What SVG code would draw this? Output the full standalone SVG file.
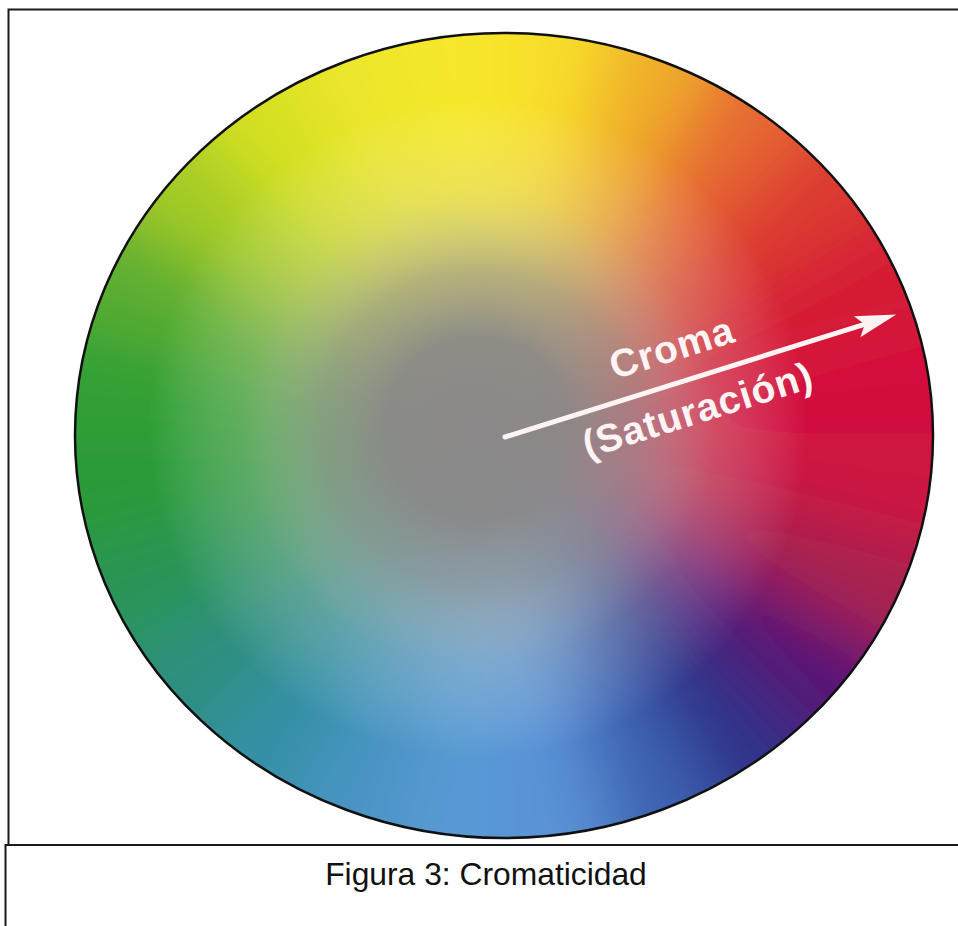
<svg xmlns="http://www.w3.org/2000/svg" width="958" height="926" viewBox="0 0 958 926">
<style>
.frame{fill:none;stroke:#1a1a1a;stroke-width:2}
.lbl{font-family:"Liberation Sans",Arial,sans-serif;font-weight:bold;font-size:39px;fill:#fff3f3}
.cap{font-family:"Liberation Sans",Arial,sans-serif;font-size:31.8px;fill:#111}
.wedges path{stroke-width:3;stroke-linejoin:round}
</style>
<defs>
<clipPath id="wheelClip"><ellipse cx="504" cy="435.5" rx="429" ry="402.5"/></clipPath>
<filter id="soft" x="-10%" y="-10%" width="120%" height="120%"><feGaussianBlur stdDeviation="32"/></filter>
<radialGradient id="grayCore" gradientUnits="userSpaceOnUse" cx="478" cy="428" r="330">
<stop offset="0" stop-color="#8a8888" stop-opacity="1"/>
<stop offset="0.28" stop-color="#8c8a8a" stop-opacity="0.96"/>
<stop offset="0.48" stop-color="#a19f9a" stop-opacity="0.72"/>
<stop offset="0.72" stop-color="#d6d4c4" stop-opacity="0.28"/>
<stop offset="1" stop-color="#ffffff" stop-opacity="0"/>
</radialGradient>
</defs>
<rect width="958" height="926" fill="#ffffff"/>
<g id="frame">
<polyline class="frame" points="958,9.5 8.5,9.5 8.5,845"/>
<polyline class="frame" points="958,845 5.5,845 5.5,926"/>
</g>
<g id="wheel">
<g clip-path="url(#wheelClip)">
<rect x="60" y="20" width="890" height="830" fill="#9a9a9a"/>
<g class="wedges" filter="url(#soft)">
<path d="M504,435.5 L1180.2,253.8 L1204,435.5Z" fill="#d3103c" stroke="#d3103c"/>
<path d="M504,435.5 L1204,435.5 L1180.2,616.2Z" fill="#cc1242" stroke="#cc1242"/>
<path d="M504,435.5 L1180.2,616.2 L1110.2,785Z" fill="#a82250" stroke="#a82250"/>
<path d="M504,435.5 L1110.2,785 L999,930Z" fill="#561876" stroke="#561876"/>
<path d="M504,435.5 L999,930 L854,1041.2Z" fill="#2e3088" stroke="#2e3088"/>
<path d="M504,435.5 L854,1041.2 L685.2,1111.2Z" fill="#3d62b2" stroke="#3d62b2"/>
<path d="M504,435.5 L685.2,1111.2 L504,1135Z" fill="#5a92d6" stroke="#5a92d6"/>
<path d="M504,435.5 L504,1135 L322.8,1111.2Z" fill="#589ad4" stroke="#589ad4"/>
<path d="M504,435.5 L322.8,1111.2 L154,1041.2Z" fill="#4894c4" stroke="#4894c4"/>
<path d="M504,435.5 L154,1041.2 L9,930Z" fill="#3690a6" stroke="#3690a6"/>
<path d="M504,435.5 L9,930 L-102.2,785Z" fill="#2e8f80" stroke="#2e8f80"/>
<path d="M504,435.5 L-102.2,785 L-172.2,616.2Z" fill="#2a9456" stroke="#2a9456"/>
<path d="M504,435.5 L-172.2,616.2 L-196,435.5Z" fill="#2a9a38" stroke="#2a9a38"/>
<path d="M504,435.5 L-196,435.5 L-172.2,253.8Z" fill="#32a034" stroke="#32a034"/>
<path d="M504,435.5 L-172.2,253.8 L-102.2,85Z" fill="#5cae30" stroke="#5cae30"/>
<path d="M504,435.5 L-102.2,85 L9,-60Z" fill="#a4cc28" stroke="#a4cc28"/>
<path d="M504,435.5 L9,-60 L154,-171.2Z" fill="#d6e020" stroke="#d6e020"/>
<path d="M504,435.5 L154,-171.2 L322.8,-241.2Z" fill="#ece62a" stroke="#ece62a"/>
<path d="M504,435.5 L322.8,-241.2 L504,-265Z" fill="#f6e82c" stroke="#f6e82c"/>
<path d="M504,435.5 L504,-265 L685.2,-241.2Z" fill="#f8de2a" stroke="#f8de2a"/>
<path d="M504,435.5 L685.2,-241.2 L854,-171.2Z" fill="#f0ae2a" stroke="#f0ae2a"/>
<path d="M504,435.5 L854,-171.2 L999,-60Z" fill="#e66a30" stroke="#e66a30"/>
<path d="M504,435.5 L999,-60 L1110.2,85Z" fill="#dc3a30" stroke="#dc3a30"/>
<path d="M504,435.5 L1110.2,85 L1180.2,253.8Z" fill="#d61e34" stroke="#d61e34"/>
</g>
<rect x="60" y="20" width="890" height="830" fill="url(#grayCore)"/>
</g>
<ellipse cx="504" cy="435.5" rx="429" ry="402.5" fill="none" stroke="#111" stroke-width="2.5"/>
</g>
<g id="chroma-arrow" transform="translate(505,437) rotate(-17.4)">
<line x1="0" y1="0" x2="380" y2="0" stroke="#fff3f3" stroke-width="5" stroke-linecap="round"/>
<polygon points="410,0 369,-11 377,0 369,11" fill="#fff3f3"/>
<text class="lbl" x="186" y="-22" text-anchor="middle" letter-spacing="1">Croma</text>
<text class="lbl" x="192" y="45" text-anchor="middle" letter-spacing="1">(Saturación)</text>
</g>
<g id="caption">
<text class="cap" x="486" y="885" text-anchor="middle">Figura 3: Cromaticidad</text>
</g>
</svg>
